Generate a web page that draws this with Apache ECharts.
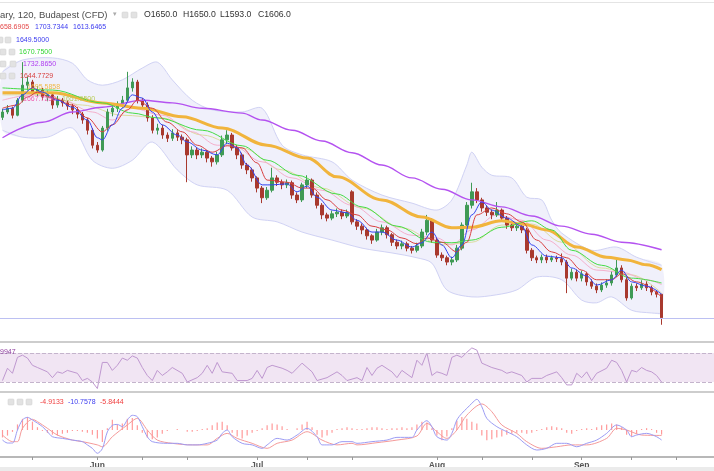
<!DOCTYPE html>
<html>
<head>
<meta charset="utf-8">
<title>Budapest (CFD) 120</title>
<script src="https://cdn.jsdelivr.net/npm/echarts@6/dist/echarts.min.js"></script>
<style>
  html, body { margin: 0; padding: 0; background: #fff; }
  #chart { width: 714px; height: 471px; }
</style>
</head>
<body>
<div id="chart"></div>
<script>
// bars on the axis (the last ones are empty space on the right)
const barCount = 143;
const categories = [];
for (let i = 0; i < barCount; i++) categories.push(String(i));

const monthLabels = ['Jun', 'Jul', 'Aug', 'Sep'];
const monthBars = [19, 51, 87, 116];
const tickBars = [6, 19, 28, 37, 51, 61, 70, 87, 96, 106, 116, 126, 135];

// [open, close, low, high]
const candles = [
  [1980,1990,1975,1996],[1990,1997,1986,2003],[1997,1984,1978,2000],[1984,2012,1982,2016],
  [2012,2040,2008,2083],[2040,2046,2030,2056],[2046,2027,2022,2050],[2027,2031,2020,2038],
  [2031,2018,2012,2035],[2018,2022,2010,2030],[2022,2003,1996,2026],[2003,2012,1998,2020],
  [2012,2007,2000,2016],[2007,2001,1994,2012],[2001,1994,1986,2005],[1994,1986,1978,1999],
  [1986,1975,1968,1990],[1975,1956,1948,1979],[1956,1928,1922,1960],[1928,1919,1914,1934],
  [1919,1960,1916,1964],[1960,1990,1955,1996],[1990,1997,1982,2003],[1997,2005,1990,2010],
  [2005,2012,1998,2020],[2012,2035,2008,2065],[2035,2046,2028,2053],[2046,2012,2006,2050],
  [2012,2003,1996,2016],[2003,1979,1972,2008],[1979,1956,1950,1984],[1956,1960,1948,1968],
  [1960,1947,1940,1966],[1947,1941,1934,1952],[1941,1951,1936,1958],[1951,1943,1936,1956],
  [1943,1938,1930,1948],[1938,1910,1859,1942],[1910,1919,1904,1926],[1919,1910,1902,1924],
  [1910,1915,1904,1922],[1915,1904,1896,1919],[1904,1897,1888,1908],[1897,1910,1892,1916],
  [1910,1938,1906,1946],[1938,1947,1930,1956],[1947,1923,1918,1951],[1923,1910,1902,1928],
  [1910,1891,1884,1914],[1891,1882,1874,1895],[1882,1867,1860,1886],[1867,1848,1840,1870],
  [1848,1830,1820,1852],[1830,1844,1826,1850],[1844,1867,1840,1886],[1867,1859,1852,1872],
  [1859,1854,1846,1864],[1854,1858,1848,1864],[1858,1835,1828,1862],[1835,1826,1820,1840],
  [1826,1854,1822,1858],[1854,1863,1848,1872],[1863,1835,1830,1866],[1835,1816,1810,1840],
  [1816,1798,1790,1820],[1798,1792,1786,1802],[1792,1800,1788,1806],[1800,1803,1794,1810],
  [1803,1796,1790,1808],[1796,1802,1792,1808],[1841,1785,1780,1844],[1785,1777,1770,1790],
  [1777,1770,1762,1782],[1770,1759,1752,1774],[1759,1751,1744,1762],[1751,1766,1748,1772],
  [1766,1774,1760,1780],[1774,1761,1754,1778],[1761,1747,1740,1764],[1747,1740,1734,1752],
  [1740,1744,1734,1750],[1744,1736,1730,1748],[1736,1732,1726,1740],[1732,1740,1728,1746],
  [1740,1766,1736,1772],[1766,1788,1760,1798],[1788,1751,1746,1792],[1751,1723,1718,1755],
  [1723,1718,1712,1728],[1718,1710,1704,1722],[1710,1714,1704,1720],[1714,1736,1710,1742],
  [1736,1779,1732,1784],[1779,1816,1774,1822],[1816,1841,1810,1858],[1841,1826,1820,1848],
  [1826,1811,1804,1830],[1811,1803,1796,1816],[1803,1798,1790,1808],[1798,1807,1794,1822],
  [1807,1792,1786,1810],[1792,1779,1772,1796],[1779,1774,1768,1782],[1774,1777,1768,1782],
  [1777,1770,1764,1782],[1770,1732,1726,1774],[1732,1718,1712,1736],[1718,1714,1708,1722],
  [1714,1719,1708,1724],[1719,1714,1708,1724],[1714,1718,1710,1722],[1718,1716,1710,1722],
  [1716,1710,1704,1726],[1710,1680,1652,1714],[1680,1691,1676,1698],[1691,1680,1674,1696],
  [1680,1688,1674,1694],[1688,1673,1666,1692],[1673,1665,1660,1678],[1665,1658,1652,1670],
  [1658,1667,1654,1672],[1667,1671,1662,1678],[1671,1686,1666,1692],[1686,1699,1682,1714],
  [1699,1677,1672,1704],[1677,1643,1638,1682],[1643,1665,1640,1670],[1665,1662,1656,1670],
  [1662,1669,1658,1676],[1669,1662,1656,1674],[1662,1654,1648,1666],[1654,1650,1644,1658],
  [1650,1606,1593,1650]
];
const lastClose = 1606;

// indicator lines, [bar, value]
const bbUpper = [[0,2065],[4,2087],[10,2091],[14,2081],[17,2050],[20,2040],[24,2050],[28,2072],[31,2083],
  [34,2050],[38,2012],[42,1994],[48,1990],[52,1997],[56,1928],[60,1910],[66,1897],[70,1863],[76,1835],
  [82,1820],[87,1807],[90,1826],[93,1891],[94,1915],[96,1887],[98,1872],[102,1867],[105,1831],[108,1826],
  [110,1788],[112,1764],[118,1732],[123,1738],[127,1719],[132,1704]];
const bbLower = [[0,1956],[4,1943],[9,1943],[14,1960],[18,1900],[22,1885],[26,1900],[30,1934],[35,1882],
  [39,1854],[45,1844],[50,1794],[55,1785],[60,1766],[66,1751],[72,1736],[78,1727],[83,1718],[86,1708],
  [89,1658],[94,1645],[99,1649],[103,1658],[107,1682],[112,1677],[116,1639],[119,1634],[122,1645],
  [126,1620],[130,1615],[132,1614]];
const emaPurple = [[0,1942],[8,1971],[14,1990],[20,1999],[28,2012],[34,2007],[40,1997],[48,1988],[52,1975],
  [58,1956],[64,1936],[70,1914],[76,1891],[82,1867],[88,1846],[94,1826],[100,1813],[106,1796],[112,1777],
  [118,1762],[124,1747],[132,1733]];
const emaOrange = [[0,2026],[10,2026],[20,2007],[28,1997],[36,1981],[44,1960],[53,1928],[61,1904],[67,1869],
  [76,1826],[84,1794],[90,1774],[94,1775],[100,1787],[104,1781],[109,1770],[115,1738],[121,1719],[125,1714],
  [129,1705],[132,1696]];
const emaGreen = [[0,2035],[10,2031],[20,2007],[26,1988],[31,1979],[40,1956],[48,1927],[53,1900],[59,1872],
  [67,1837],[72,1813],[79,1777],[86,1747],[90,1746],[94,1751],[100,1775],[106,1787],[110,1770],[114,1732],
  [120,1704],[126,1680],[132,1671]];
const emaBlue = [[0,1994],[2,1997],[4,2022],[6,2035],[8,2027],[11,2012],[14,1999],[17,1975],[19,1942],[20,1938],
  [22,1966],[24,1997],[26,2022],[28,2016],[30,1990],[32,1966],[35,1947],[37,1934],[40,1919],[43,1910],
  [45,1932],[47,1923],[49,1891],[52,1854],[54,1854],[57,1856],[59,1841],[61,1852],[63,1831],[66,1807],
  [69,1802],[71,1788],[74,1766],[76,1766],[79,1751],[82,1738],[84,1746],[86,1766],[88,1742],[90,1718],
  [92,1742],[94,1798],[96,1822],[98,1807],[101,1792],[104,1777],[106,1742],[109,1721],[112,1718],[114,1699],
  [117,1684],[119,1667],[122,1677],[124,1695],[126,1673],[129,1665],[132,1650]];
const emaRed = [[0,1997],[3,2003],[5,2018],[7,2027],[10,2016],[14,2003],[17,1979],[20,1953],[22,1966],[25,1994],
  [27,2012],[30,1997],[33,1971],[36,1953],[39,1928],[42,1915],[45,1927],[48,1923],[51,1895],[53,1863],
  [57,1859],[60,1848],[62,1848],[65,1826],[68,1807],[71,1798],[74,1777],[77,1770],[80,1755],[83,1744],
  [85,1755],[88,1747],[91,1729],[93,1747],[95,1798],[98,1811],[101,1800],[104,1785],[107,1751],[110,1729],
  [113,1718],[116,1695],[119,1677],[122,1677],[124,1688],[127,1673],[132,1645]];
const emaPink = [[0,2012],[6,2022],[12,2012],[18,1990],[22,1975],[26,1997],[32,1984],[38,1953],[43,1928],
  [46,1928],[52,1897],[58,1867],[64,1844],[70,1816],[76,1785],[82,1760],[87,1755],[90,1742],[94,1770],
  [99,1798],[104,1788],[109,1751],[114,1723],[119,1695],[124,1691],[129,1677],[132,1668]];
const emaOlive = [[0,2022],[8,2022],[16,2003],[24,1984],[32,1979],[40,1947],[48,1923],[56,1882],[64,1848],
  [72,1811],[80,1774],[88,1742],[94,1747],[100,1779],[106,1781],[112,1747],[120,1699],[126,1686],[132,1652]];

// RSI, [bar, value]
const rsi = [[0,32],[1,49],[2,42],[3,64],[4,67],[5,63],[6,53],[7,50],[9,44],[10,36],[11,44],[12,42],[13,46],
  [15,42],[16,32],[17,35],[18,30],[19,21],[20,57],[21,57],[22,46],[23,53],[24,63],[25,60],[26,66],[27,63],
  [28,50],[29,39],[30,32],[31,46],[32,39],[33,44],[34,50],[36,42],[37,30],[39,36],[40,42],[41,53],[42,42],
  [43,57],[44,44],[46,42],[47,32],[49,32],[50,35],[51,46],[52,35],[53,50],[54,53],[56,49],[57,46],[58,42],
  [60,56],[61,50],[62,44],[63,32],[65,36],[67,44],[68,39],[69,32],[71,36],[72,32],[73,50],[74,39],[75,49],
  [76,53],[78,44],[79,36],[80,46],[82,36],[83,60],[84,53],[85,70],[86,39],[87,44],[88,42],[89,39],[90,64],
  [91,67],[92,64],[93,71],[94,77],[95,74],[96,56],[97,53],[98,50],[100,46],[101,42],[102,44],[104,39],
  [105,30],[106,35],[108,35],[109,39],[111,44],[112,36],[113,26],[114,26],[115,42],[116,36],[117,44],
  [118,32],[119,42],[121,49],[122,60],[123,57],[124,46],[125,30],[126,46],[127,44],[128,50],[129,46],
  [130,44],[131,39],[132,30]];

// MACD
const macdLine = [[0,-10.8],[1,-14],[2,-14],[3,0],[4,10.8],[5,13.6],[6,10.8],[8,3.6],[9,-1.8],[10,-7.2],
  [12,-9],[14,-10.8],[16,-12.5],[17,-16],[18,-19.7],[19,-25],[20,-20],[21,-2],[22,5],[23,6],[24,3.6],
  [25,10.8],[26,15.8],[27,14.3],[28,3.6],[29,-7.2],[30,-12.5],[33,-14.3],[35,-14.3],[37,-16],[39,-16],
  [41,-14.3],[43,-10.8],[44,-3.6],[45,0],[46,-7.2],[48,-14.3],[50,-16],[52,-19.7],[53,-16],[55,-9],
  [57,-10.8],[59,-5.4],[61,1.8],[63,-7.2],[64,-16],[66,-16],[68,-12.5],[70,-12.5],[71,-14.3],[74,-12.5],
  [77,-10.8],[79,-7.9],[82,-7.9],[83,0],[85,10],[86,3.6],[87,-7.2],[89,-10.8],[90,-3.6],[91,10.8],
  [92,17.9],[93,23.3],[94,28.7],[95,33],[96,25],[97,12.5],[99,3.6],[101,-1.8],[103,-7.2],[105,-16],
  [107,-21.5],[109,-19.7],[111,-14.3],[113,-14.3],[115,-18],[117,-14.3],[119,-10.8],[121,-3.6],[123,5.4],
  [125,0],[126,-7.2],[127,-5.4],[129,-3.6],[131,-7.2],[132,-10.7578]];
const macdSignal = [[0,-5.4],[2,-12.5],[3,-12.5],[4,1.8],[6,11.5],[7,9],[9,1.8],[11,-5.4],[14,-10.8],
  [16,-12.5],[19,-16],[20,-18],[22,-7.2],[25,5.4],[27,12.5],[29,0],[31,-10.8],[34,-14.3],[38,-16],[41,-16],
  [43,-9],[45,-3.6],[47,-9],[50,-14.3],[53,-19.7],[55,-14.3],[58,-10.8],[61,-1.8],[64,-10.8],[67,-16],
  [70,-14.3],[71,-16],[75,-13.6],[79,-10.8],[83,-6.4],[85,7.2],[87,-1.8],[89,-9],[91,0],[93,16],[96,28],
  [98,19.7],[100,5.4],[103,-3.6],[105,-12.5],[108,-19.7],[111,-18],[114,-16],[117,-16],[121,-9],[123,1.8],
  [125,0],[128,-5.4],[132,-5.8444]];
const macdHist = [-8,-6,-2,6,12,14,9,3,-1,-3,-5,-6,-4,-3,-1,-1,-2,-3,-5,-9,-13,2,11,6,7,12,13,5,-3,-8,
  -10,-8,-4,-1,0,1,0,-2,-2,-1,1,2,5,8,9,5,-3,-7,-9,-6,-3,-1,2,5,7,6,4,1,0,2,6,9,3,-5,-8,-6,-3,1,2,3,
  2,1,1,2,3,3,2,1,2,2,3,2,3,6,9,8,2,-6,-11,-7,2,10,14,12,9,7,-6,-11,-10,-8,-7,-5,-4,-3,-3,-4,-3,-1,1,3,
  4,3,2,-3,-4,-1,1,2,1,3,5,6,7,6,3,-5,-7,-4,1,2,1,-3,-4.9133];

const FONT = '"Liberation Sans", Arial, sans-serif';

function emaSeries(data, color, width, z) {
  return {
    type: 'line', data: data, xAxisIndex: 0, yAxisIndex: 0,
    showSymbol: false, symbol: 'none', smooth: 0.35, smoothMonotone: 'x',
    lineStyle: { color: color, width: width }, silent: true, z: z
  };
}

function txt(x, y, text, color, size) {
  return { type: 'text', x: x, y: y, z: 100,
    style: { text: text, fill: color, font: size + 'px ' + FONT, verticalAlign: 'middle' } };
}
function box(x, y) {
  return { type: 'rect', z: 100, shape: { x: x, y: y - 3, width: 6, height: 6, r: 1 },
    style: { fill: '#e2e2e2', stroke: '#cfcfcf', lineWidth: 0.5 } };
}

const chart = echarts.init(document.getElementById('chart'));

const hiddenX = (i) => ({
  type: 'category', gridIndex: i, data: categories, boundaryGap: true, show: false
});

chart.setOption({
  animation: false,
  backgroundColor: '#fff',
  grid: [
    { left: 0, right: 0, top: 3, height: 338 },
    { left: 0, right: 0, top: 344, height: 47 },
    { left: 0, right: 0, top: 394, height: 63 }
  ],
  xAxis: [
    hiddenX(0),
    hiddenX(1),
    {
      type: 'category', gridIndex: 2, data: categories, boundaryGap: true,
      axisLine: { show: true, onZero: false, lineStyle: { color: '#a0a0a0', width: 1.5 } },
      axisTick: { show: true, alignWithLabel: true, length: 3,
        interval: (i) => tickBars.indexOf(i) >= 0, lineStyle: { color: '#999' } },
      axisLabel: {
        show: true, margin: 4, color: '#555', fontSize: 8.5, fontWeight: 'bold', fontFamily: FONT,
        interval: (i) => monthBars.indexOf(i) >= 0,
        formatter: (v, i) => monthLabels[monthBars.indexOf(Number(v))] || ''
      },
      splitLine: { show: false }
    }
  ],
  yAxis: [
    { type: 'value', gridIndex: 0, min: 1562.7, max: 2193.4, show: false, splitLine: { show: false } },
    { type: 'value', gridIndex: 1, min: 17.6, max: 82.4, show: false, splitLine: { show: false } },
    { type: 'value', gridIndex: 2, min: -29, max: 38.7, show: false, splitLine: { show: false } }
  ],
  series: [
    {
      type: 'custom', xAxisIndex: 0, yAxisIndex: 0, silent: true, z: 1, clip: true,
      data: [[0, bbUpper[0][1]]],
      renderItem: (params, api) => {
        const up = bbUpper.map(d => api.coord(d));
        const lo = bbLower.map(d => api.coord(d));
        return {
          type: 'group',
          children: [
            { type: 'polygon', shape: { points: up.concat(lo.slice().reverse()), smooth: 0.3 },
              style: { fill: 'rgba(130,132,222,0.12)' } },
            { type: 'polyline', shape: { points: up, smooth: 0.3 },
              style: { stroke: '#d0d2f4', lineWidth: 1, fill: null } },
            { type: 'polyline', shape: { points: lo, smooth: 0.3 },
              style: { stroke: '#d0d2f4', lineWidth: 1, fill: null } }
          ]
        };
      }
    },
    emaSeries(emaOlive, '#dcdca0', 1, 2),
    emaSeries(emaPink, '#f4b0cc', 1, 2),
    {
      type: 'candlestick', xAxisIndex: 0, yAxisIndex: 0, data: candles, barWidth: 3, z: 3,
      itemStyle: { color: '#3f9a55', color0: '#a8392e', borderColor: '#3f9a55', borderColor0: '#a8392e', borderWidth: 1 },
      markLine: {
        silent: true, symbol: 'none', label: { show: false },
        lineStyle: { color: '#bcc0f2', type: 'solid', width: 1 },
        data: [{ yAxis: lastClose }]
      }
    },
    emaSeries(emaPurple, '#b452f0', 1.4, 4),
    emaSeries(emaOrange, '#f1b43c', 3, 4),
    emaSeries(emaGreen, '#45dc45', 1, 4),
    emaSeries(emaRed, '#d94040', 1, 5),
    emaSeries(emaBlue, '#3344f0', 1, 5),
    {
      type: 'line', data: rsi, xAxisIndex: 1, yAxisIndex: 1, showSymbol: false, symbol: 'none',
      lineStyle: { color: '#bf98d0', width: 1 }, silent: true, z: 3,
      markArea: { silent: true, itemStyle: { color: '#f1e5f3' }, data: [[{ yAxis: 30 }, { yAxis: 70 }]] },
      markLine: {
        silent: true, symbol: 'none', label: { show: false },
        lineStyle: { color: '#c4b4cc', type: 'dashed', width: 1 },
        data: [{ yAxis: 30 }, { yAxis: 70 }]
      }
    },
    {
      type: 'bar', data: macdHist, xAxisIndex: 2, yAxisIndex: 2, barWidth: 1.2,
      itemStyle: { color: '#ff9a9a' }, silent: true, z: 2
    },
    {
      type: 'line', data: macdSignal, xAxisIndex: 2, yAxisIndex: 2, showSymbol: false, symbol: 'none',
      smooth: 0.3, lineStyle: { color: '#f59a9a', width: 1 }, silent: true, z: 3
    },
    {
      type: 'line', data: macdLine, xAxisIndex: 2, yAxisIndex: 2, showSymbol: false, symbol: 'none',
      smooth: 0.3, lineStyle: { color: '#9c9cf4', width: 1 }, silent: true, z: 4
    }
  ],
  graphic: [
    { type: 'rect', z: 90, shape: { x: 0, y: 2, width: 714, height: 1 }, style: { fill: '#e4e4e4' } },
    { type: 'rect', z: 90, shape: { x: 0, y: 341, width: 714, height: 2 }, style: { fill: '#cdcdcd' } },
    { type: 'rect', z: 90, shape: { x: 0, y: 391, width: 714, height: 2 }, style: { fill: '#cdcdcd' } },
    { type: 'rect', z: 90, shape: { x: 0, y: 467, width: 714, height: 4 }, style: { fill: '#ebebeb' } },

    txt(0, 15, 'ary, 120, Budapest (CFD)', '#4d4d4d', 9.5),
    txt(113, 14, '▾', '#aaaaaa', 7),
    box(122, 15), box(131, 15),
    txt(144, 15, 'O1650.0', '#333', 8.7),
    txt(183, 15, 'H1650.0', '#333', 8.7),
    txt(220, 15, 'L1593.0', '#333', 8.7),
    txt(258, 15, 'C1606.0', '#333', 8.7),

    txt(0, 27, '658.6905', '#e44848', 7),
    txt(35, 27, '1703.7344', '#3b3bef', 7),
    txt(73, 27, '1613.6465', '#3b3bef', 7),
    box(-3, 40), box(5, 40), txt(16, 40, '1649.5000', '#3b3bef', 7),
    box(0, 52), box(9, 52), txt(19, 52, '1670.7500', '#33d633', 7),
    box(0, 64), box(10, 64), txt(23, 64, '1732.8650', '#b040f0', 7),
    box(0, 76), box(9, 76), txt(20, 76, '1644.7729', '#d84040', 7),
    txt(27, 87, '1695.5858', '#f0b848', 7),
    txt(23, 99, '1667.7250', '#f060b0', 7),
    txt(62, 99, '1651.9500', '#b8cc5a', 7),

    txt(0, 352, '9947', '#9040a0', 7),
    box(8, 402), box(17, 402), box(26, 402),
    txt(40, 402, '-4.9133', '#f04040', 7),
    txt(68, 402, '-10.7578', '#4040f0', 7),
    txt(100, 402, '-5.8444', '#f04040', 7)
  ]
});
window.addEventListener('resize', () => chart.resize());
</script>
</body>
</html>
